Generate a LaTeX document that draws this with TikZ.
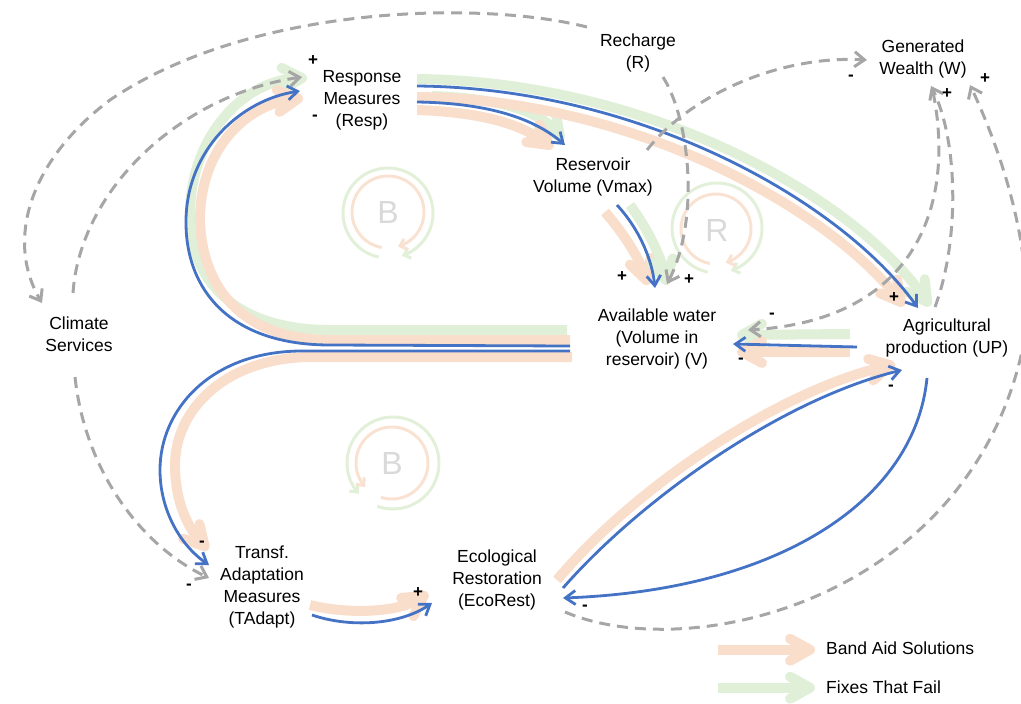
\documentclass[tikz,border=0pt]{standalone}
\usepackage{fontspec}
\setmainfont{Liberation Sans}
\usetikzlibrary{arrows.meta,calc}
\definecolor{bandorange}{RGB}{250,222,204}
\definecolor{bandgreen}{RGB}{224,239,215}
\definecolor{looporange}{RGB}{250,226,210}
\definecolor{loopgreen}{RGB}{226,240,217}
\definecolor{linkblue}{RGB}{68,114,196}
\definecolor{dashgray}{RGB}{166,166,166}
\definecolor{lettergray}{RGB}{217,217,217}
\begin{document}
\begin{tikzpicture}[x=1pt,y=-1pt,
  lbl/.style={font=\fontsize{17.5}{22}\selectfont, align=center, inner sep=0pt},
  sgn/.style={font=\bfseries\fontsize{17}{17}\selectfont, inner sep=0pt},
  loopletter/.style={font=\fontsize{32}{32}\selectfont, text=lettergray, inner sep=0pt},
  bluelink/.style={draw=linkblue, line width=2.8pt, -{Straight Barb[length=10pt,width=14pt]}},
  dashlink/.style={draw=dashgray, line width=3pt, dash pattern=on 11pt off 7pt, -{Straight Barb[length=10pt,width=15pt]}},
  orangeband/.style={draw=bandorange, line width=10pt, -{Straight Barb[length=20pt,width=22pt,round]}},
  greenband/.style={draw=bandgreen, line width=10pt, -{Straight Barb[length=20pt,width=22pt,round]}},
  greenarc/.style={draw=loopgreen, line width=3pt, -{Straight Barb[length=6pt,width=11pt]}},
  orangearc/.style={draw=looporange, line width=3pt, -{Straight Barb[length=6pt,width=11pt]}}
]
\useasboundingbox (0,0) rectangle (1021,704);

% ---------- nodes ----------
\node[lbl] (resp) at (362,100) {Response\\Measures\\(Resp)};
\node[lbl] (rech) at (638,53) {Recharge\\(R)};
\node[lbl] (wealth) at (923,59) {Generated\\Wealth (W)};
\node[lbl] (vmax) at (593,177) {Reservoir\\Volume (Vmax)};
\node[lbl] (avail) at (657,339) {Available water\\(Volume in\\reservoir) (V)};
\node[lbl] (agri) at (947,338) {Agricultural\\production (UP)};
\node[lbl] (climate) at (79,334) {Climate\\Services};
\node[lbl] (tadapt) at (262,587) {Transf.\\Adaptation\\Measures\\(TAdapt)};
\node[lbl] (eco) at (497,580) {Ecological\\Restoration\\(EcoRest)};
\node[lbl, anchor=base west] (leg1) at (826,654) {Band Aid Solutions};
\node[lbl, anchor=base west] (leg2) at (826,693) {Fixes That Fail};

% ---------- loop markers ----------
\draw[greenarc] plot[domain=102:432, samples=90] ({388+45*cos(\x)},{213+45*sin(\x)});
\draw[orangearc] plot[domain=100:434, samples=90] ({388+36*cos(\x)},{212+36*sin(\x)});
\node[loopletter] (loopB1) at (388,212) {B};
\draw[greenarc] plot[domain=102:432, samples=90] ({717+45*cos(\x)},{228+45*sin(\x)});
\draw[orangearc] plot[domain=100:434, samples=90] ({716+35*cos(\x)},{229+35*sin(\x)});
\node[loopletter] (loopR) at (717,230) {R};
\draw[greenarc] plot[domain=0:332, samples=90] ({393+46*cos(110-\x)},{463+46*sin(110-\x)});
\draw[orangearc] plot[domain=0:330, samples=90] ({392+36*cos(108-\x)},{463+36*sin(108-\x)});
\node[loopletter] (loopB2) at (392,463) {B};

% ---------- thick bands ----------
\draw[greenband] ($(resp)+(55,-21)$) .. controls (645,81) and (852,194) .. ($(agri)+(-17,-32)$);
\draw[greenband] ($(resp)+(70,-4)$) .. controls (490,98) and (537,108) .. ($(vmax)+(-30,-37)$);
\draw[orangeband] ($(resp)+(55,-3)$) .. controls (632,99) and (826,207) .. ($(agri)+(-43,-32)$);
\draw[orangeband] ($(resp)+(55,10)$) .. controls (470,112) and (515,120) .. ($(vmax)+(-40,-29)$);
\draw[orangeband] ($(vmax)+(12,35)$) .. controls (625,235) and (640,260) .. ($(avail)+(-9,-54)$);
\draw[greenband] ($(vmax)+(37,28)$) .. controls (650,232) and (662,260) .. ($(avail)+(10,-54)$);
\draw[greenband] ($(agri)+(-97,-4)$) -- ($(avail)+(80,-4)$);
\draw[orangeband] ($(agri)+(-97,14)$) -- ($(avail)+(80,13)$);
\draw[greenband] ($(avail)+(-90,-9)$) -- (330,330) .. controls (240,330) and (190,285) .. (190,215) .. controls (190,135) and (245,80) .. ($(resp)+(-55,-22)$);
\draw[orangeband] ($(avail)+(-87,1)$) -- (330,340) .. controls (245,340) and (202,290) .. (200,220) .. controls (200,150) and (245,105) .. ($(resp)+(-59,-2)$);
\draw[orangeband] ($(avail)+(-85,18)$) -- (310,357) .. controls (225,358) and (175,410) .. (175,465) .. controls (175,505) and (190,530) .. ($(tadapt)+(-54,-37)$);
\draw[orangeband] ($(tadapt)+(48,18)$) .. controls (350,615) and (400,612) .. ($(eco)+(-69,13)$);
\draw[orangeband] ($(eco)+(60,0)$) .. controls (632,490) and (775,392) .. ($(agri)+(-52,26)$);

% legend bands
\draw[orangeband] ($(leg1.west)+(-108,2)$) -- ($(leg1.west)+(-11,2)$);
\draw[greenband] ($(leg2.west)+(-108,1)$) -- ($(leg2.west)+(-11,1)$);

% ---------- blue links ----------
\draw[bluelink] ($(resp)+(55,-14)$) .. controls (640,88) and (840,200) .. ($(agri)+(-29,-30)$);
\draw[bluelink] ($(resp)+(55,2)$) .. controls (480,103) and (530,115) .. ($(vmax)+(-28,-32)$);
\draw[bluelink] ($(vmax)+(24,28)$) .. controls (640,230) and (652,260) .. ($(avail)+(-2,-51)$);
\draw[bluelink] ($(agri)+(-90,9)$) -- ($(avail)+(76,5)$);
\draw[bluelink] ($(avail)+(-87,7)$) -- (330,345) .. controls (230,345) and (185,290) .. (186,220) .. controls (187,150) and (240,100) .. ($(resp)+(-62,-9)$);
\draw[bluelink] ($(avail)+(-87,12)$) -- (300,351) .. controls (210,352) and (160,410) .. (160,470) .. controls (160,510) and (180,545) .. ($(tadapt)+(-53,-22)$);
\draw[bluelink] ($(tadapt)+(50,28)$) .. controls (350,628) and (400,625) .. ($(eco)+(-65,23)$);
\draw[bluelink] ($(eco)+(66,8)$) .. controls (640,500) and (780,400) .. ($(agri)+(-45,32)$);
\draw[bluelink] ($(agri)+(-20,40)$) .. controls (915,500) and (780,590) .. ($(eco)+(66,18)$);

% ---------- dashed links ----------
\draw[dashlink] ($(rech)+(-51,-26)$) .. controls (480,0) and (250,5) .. (110,100) .. controls (30,160) and (5,240) .. ($(climate)+(-37,-31)$);
\draw[dashlink] ($(climate)+(-6,-41)$) .. controls (80,190) and (180,95) .. ($(resp)+(-60,-23)$);
\draw[dashlink] ($(rech)+(25,24)$) .. controls (690,120) and (700,220) .. ($(avail)+(10,-55)$);
\draw[dashlink] ($(vmax)+(54,-27)$) .. controls (690,95) and (780,55) .. ($(wealth)+(-56,1)$);
\draw[dashlink] ($(agri)+(-12,-31)$) .. controls (960,240) and (958,140) .. ($(wealth)+(8,27)$);
\draw[dashlink] ($(wealth)+(10,33)$) .. controls (955,200) and (920,320) .. ($(avail)+(91,-9)$);
\draw[dashlink] ($(eco)+(68,32)$) .. controls (690,665) and (960,600) .. (1020,360) .. controls (1040,280) and (1010,170) .. ($(wealth)+(47,26)$);
\draw[dashlink] ($(climate)+(-4,43)$) .. controls (85,470) and (140,545) .. ($(tadapt)+(-53,-9)$);

% ---------- signs ----------
\node[sgn] (s1) at (313,61) {+};
\node[sgn] (s2) at (315,118) {-};
\node[sgn] (s3) at (622,277) {+};
\node[sgn] (s4) at (689,280) {+};
\node[sgn] (s5) at (894,298) {+};
\node[sgn] (s6) at (851,78) {-};
\node[sgn] (s7) at (947,94) {+};
\node[sgn] (s8) at (985,79) {+};
\node[sgn] (s9) at (772,316) {-};
\node[sgn] (s10) at (741,361) {-};
\node[sgn] (s11) at (891,388) {-};
\node[sgn] (s12) at (585,608) {-};
\node[sgn] (s13) at (202,544) {-};
\node[sgn] (s14) at (189,587) {-};
\node[sgn] (s15) at (418,593) {+};
\end{tikzpicture}
\end{document}
